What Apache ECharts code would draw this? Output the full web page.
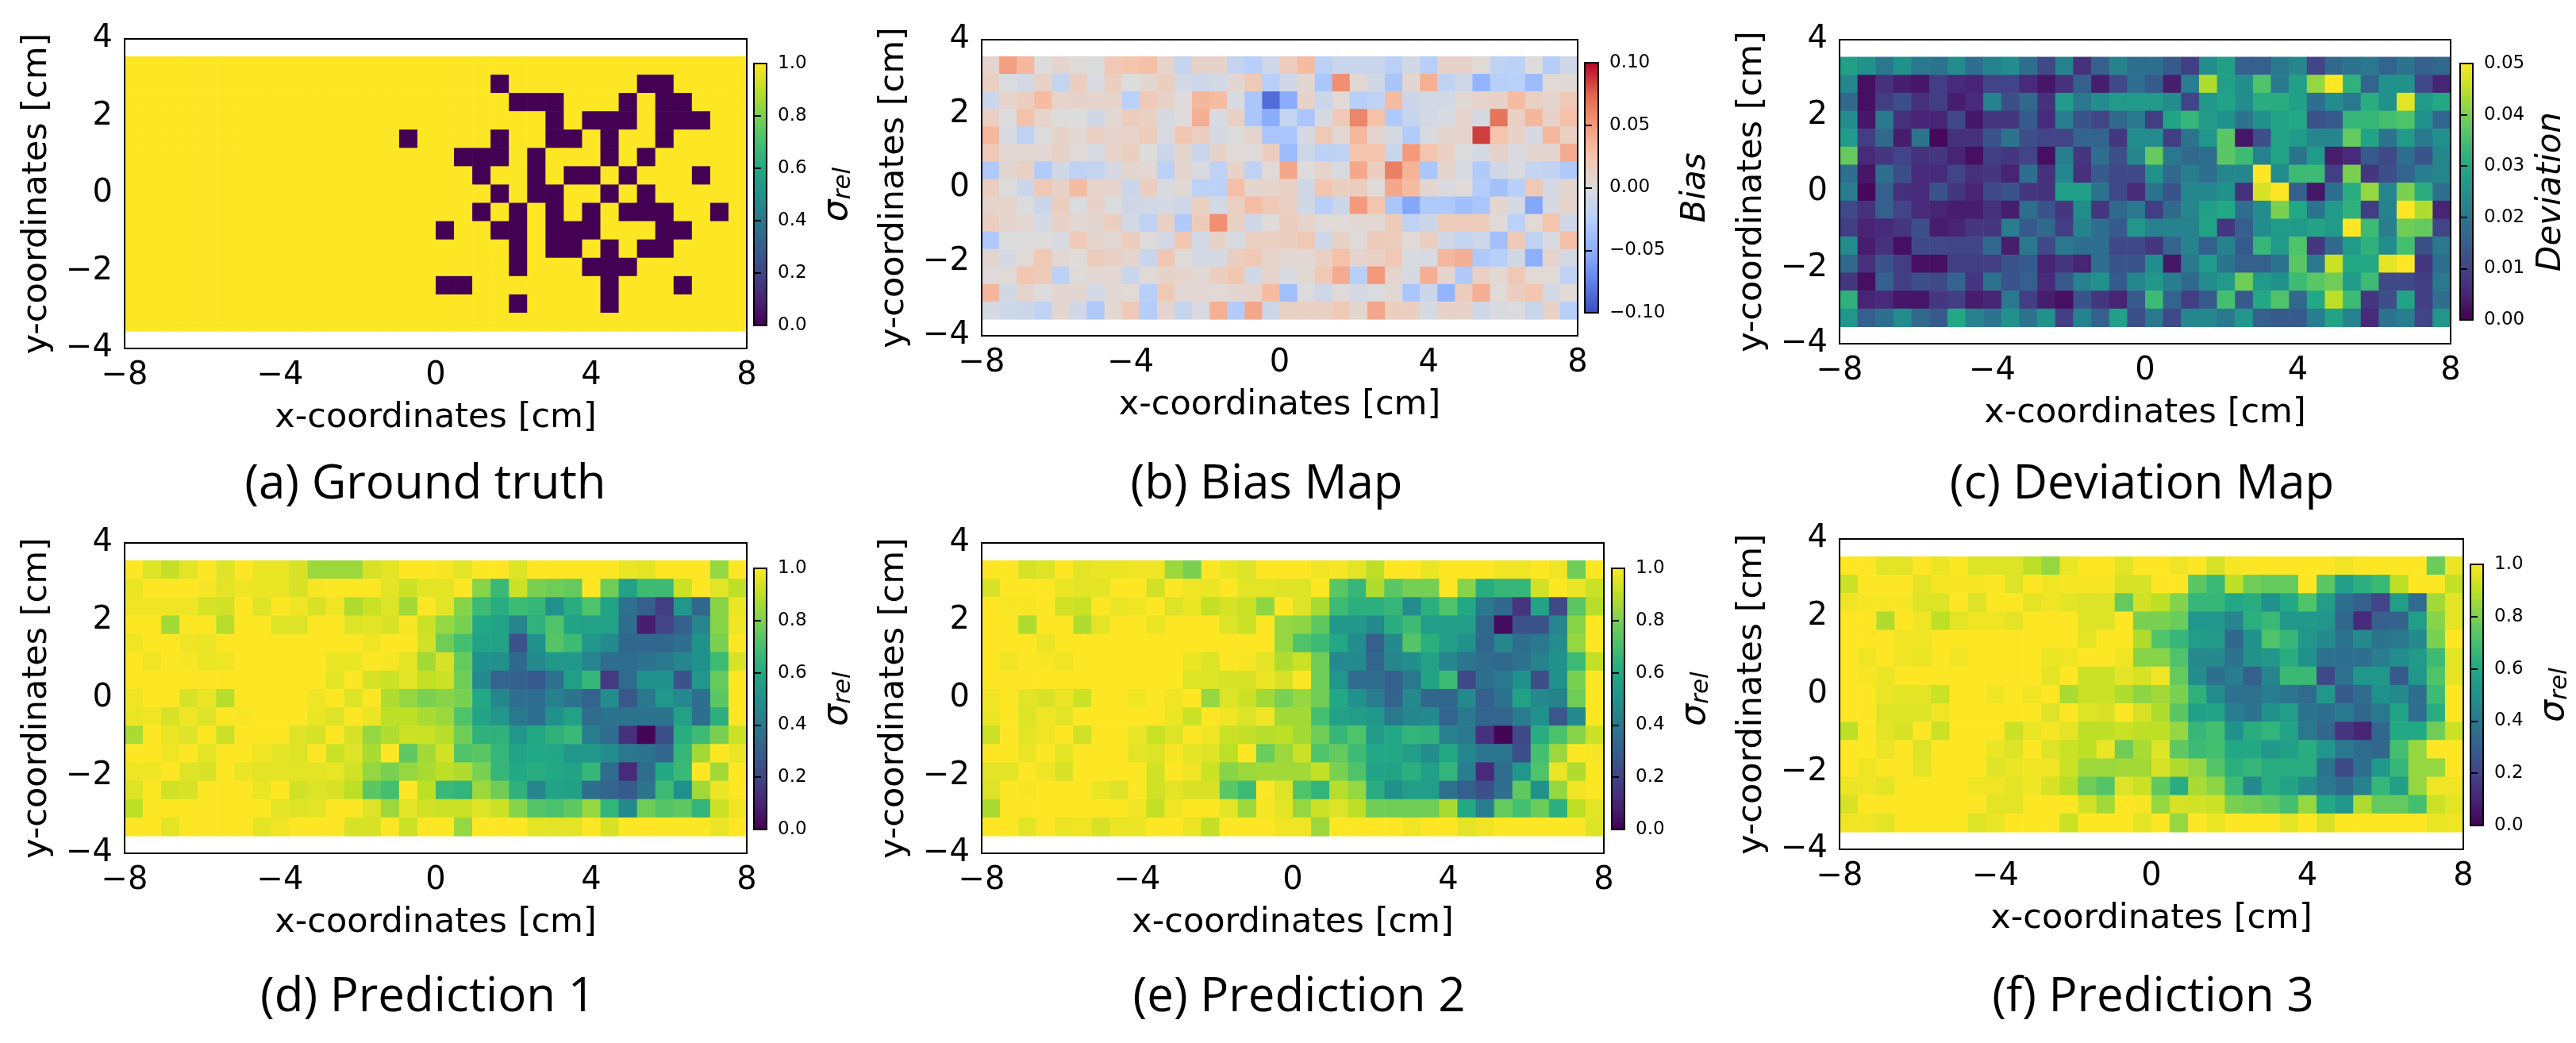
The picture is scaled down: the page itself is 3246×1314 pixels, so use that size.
<!DOCTYPE html>
<html>
<head>
<meta charset="UTF-8">
<title>Reconstruction maps</title>
<script src="https://cdn.jsdelivr.net/npm/echarts@6/dist/echarts.min.js"></script>
<style>
html, body { margin: 0; padding: 0; background: #fff; }
#main { width: 3246px; height: 1314px; }
</style>
</head>
<body>
<div id="main"></div>
<script>
// every matrix: 15 rows (top row first) x 34 columns
var groundTruth = [
[1,1,1,1,1,1,1,1,1,1,1,1,1,1,1,1,1,1,1,1,1,1,1,1,1,1,1,1,1,1,1,1,1,1],
[1,1,1,1,1,1,1,1,1,1,1,1,1,1,1,1,1,1,1,1,0,1,1,1,1,1,1,1,0,0,1,1,1,1],
[1,1,1,1,1,1,1,1,1,1,1,1,1,1,1,1,1,1,1,1,1,0,0,0,1,1,1,0,1,0,0,1,1,1],
[1,1,1,1,1,1,1,1,1,1,1,1,1,1,1,1,1,1,1,1,1,1,1,0,1,0,0,0,1,0,0,0,1,1],
[1,1,1,1,1,1,1,1,1,1,1,1,1,1,1,0,1,1,1,1,0,1,1,0,0,1,0,1,1,0,1,1,1,1],
[1,1,1,1,1,1,1,1,1,1,1,1,1,1,1,1,1,1,0,0,0,1,0,1,1,1,0,1,0,1,1,1,1,1],
[1,1,1,1,1,1,1,1,1,1,1,1,1,1,1,1,1,1,1,0,1,1,0,1,0,0,1,0,1,1,1,0,1,1],
[1,1,1,1,1,1,1,1,1,1,1,1,1,1,1,1,1,1,1,1,0,1,0,0,1,1,0,1,0,1,1,1,1,1],
[1,1,1,1,1,1,1,1,1,1,1,1,1,1,1,1,1,1,1,0,1,0,1,0,1,0,1,0,0,0,1,1,0,1],
[1,1,1,1,1,1,1,1,1,1,1,1,1,1,1,1,1,0,1,1,0,0,1,0,0,0,1,1,1,0,0,1,1,1],
[1,1,1,1,1,1,1,1,1,1,1,1,1,1,1,1,1,1,1,1,1,0,1,0,0,1,0,1,0,0,1,1,1,1],
[1,1,1,1,1,1,1,1,1,1,1,1,1,1,1,1,1,1,1,1,1,0,1,1,1,0,0,0,1,1,1,1,1,1],
[1,1,1,1,1,1,1,1,1,1,1,1,1,1,1,1,1,0,0,1,1,1,1,1,1,1,0,1,1,1,0,1,1,1],
[1,1,1,1,1,1,1,1,1,1,1,1,1,1,1,1,1,1,1,1,1,0,1,1,1,1,0,1,1,1,1,1,1,1],
[1,1,1,1,1,1,1,1,1,1,1,1,1,1,1,1,1,1,1,1,1,1,1,1,1,1,1,1,1,1,1,1,1,1]
];
// bias, in units of 0.001
var biasMap = [
[8,47,32,0,8,1,0,20,25,28,9,-16,10,10,-17,-25,-10,16,30,-22,-14,-13,-13,-23,-8,-25,10,10,3,-20,-22,1,-27,-10],
[13,-2,-7,11,-16,15,-3,15,0,6,14,-7,-10,-7,6,20,-25,-9,6,-32,55,4,-9,-33,6,37,-19,-9,-47,-25,-24,-40,3,4],
[-12,9,15,30,9,10,9,9,-24,20,11,1,33,30,-4,-32,-85,-52,10,-12,3,-25,-20,30,-12,-7,-7,4,9,11,30,13,8,20],
[13,-1,27,9,0,0,-8,4,17,13,-5,1,38,-4,12,-32,-52,-16,-32,-5,20,60,27,-30,-15,-7,-4,8,-5,68,13,33,10,27],
[32,-3,-20,-1,10,4,13,8,9,17,-4,22,15,-5,0,8,-32,-32,-6,20,4,32,6,-5,-28,-3,7,8,85,25,11,-5,32,13],
[20,5,5,5,11,2,-4,9,14,0,-12,7,-13,10,2,2,16,-40,-10,-22,-19,25,25,-13,50,24,13,-1,-6,10,-3,7,6,40],
[-30,6,12,-28,-8,-20,-17,-6,7,5,-22,7,-3,-20,11,-20,3,43,1,9,-3,42,15,62,35,-32,8,-4,-29,-8,-3,-16,-18,-30],
[15,0,-12,20,10,30,9,9,-12,14,-3,4,-22,-22,28,7,9,12,-9,23,14,16,2,42,30,6,-3,2,-27,-37,-25,20,-6,6],
[8,9,-1,-12,15,-2,10,-1,-9,-7,-6,-9,13,-7,13,29,20,13,-8,-25,-12,50,24,-32,-55,-30,-30,-38,-32,7,-6,-55,-5,9],
[15,7,5,-6,11,5,6,15,-7,-20,13,-29,18,55,12,-9,1,16,9,2,2,4,4,18,-19,-11,17,17,17,2,-22,3,25,-9],
[-30,0,-1,1,-3,19,7,5,16,1,-7,22,-7,10,-4,13,13,14,20,-10,11,2,18,16,3,14,-8,-17,-10,-37,19,-20,-4,28],
[6,-6,3,20,5,1,16,11,6,-13,22,2,-6,-5,15,20,9,5,5,13,27,8,12,21,-4,-4,32,38,-30,-25,-8,-50,8,-7],
[1,3,22,18,-22,2,5,5,-13,2,10,9,4,14,23,-8,8,-3,4,20,40,-25,50,8,-5,38,9,-30,13,4,20,3,3,-20],
[33,-8,9,0,6,6,-7,4,3,-25,20,5,5,3,6,9,30,-38,-1,-10,2,-6,-2,4,-32,-11,-47,16,38,2,15,23,-7,3],
[-5,-10,-11,-20,6,-8,-30,5,20,-27,8,-15,-3,37,-28,42,-11,12,12,12,20,6,42,15,14,-6,10,10,-10,-3,-1,-14,11,-25]
];
// deviation, in units of 0.001
var deviationMap = [
[28,25,20,25,20,19,24,18,22,24,18,11,22,7,15,22,18,18,14,9,24,28,15,15,20,23,10,17,19,20,16,19,15,17],
[23,2,7,4,3,9,6,5,10,10,6,3,7,15,4,11,18,14,4,21,44,28,24,36,20,28,42,50,32,16,25,25,11,5],
[17,2,9,12,7,9,4,6,22,12,17,7,27,20,24,27,27,27,24,10,26,29,24,31,31,28,18,24,20,31,25,48,27,30],
[24,3,20,7,5,5,11,3,8,8,14,6,21,13,10,17,20,9,29,33,27,25,19,25,29,30,13,14,33,33,35,36,25,16],
[27,9,17,4,19,1,7,7,13,19,12,10,10,16,16,8,24,24,9,19,26,37,3,12,29,27,23,23,38,29,19,27,20,25],
[38,6,8,10,7,8,5,2,9,8,10,2,21,8,18,12,23,38,20,17,18,37,34,22,29,19,27,4,6,14,11,18,13,23],
[18,3,18,12,6,6,10,7,8,5,18,7,23,7,14,11,11,25,17,21,18,23,23,50,24,34,34,9,40,8,12,16,21,23],
[21,1,15,7,6,13,8,5,11,13,8,7,28,28,19,11,6,19,13,23,23,25,7,47,50,15,3,18,31,42,23,40,31,18],
[11,7,15,10,6,5,4,4,7,4,18,13,8,24,8,17,20,9,17,23,28,30,18,24,40,30,19,27,32,9,22,50,44,5],
[9,5,6,8,12,4,5,8,8,21,14,17,9,22,18,14,26,22,22,22,29,8,15,24,27,27,29,27,50,34,21,39,38,10],
[24,4,7,2,11,11,10,10,17,4,20,11,20,18,18,11,11,8,16,22,15,22,14,33,27,36,8,17,27,32,24,35,12,20],
[17,7,13,9,2,2,9,9,9,13,14,5,8,5,18,13,13,24,3,20,27,19,15,15,19,37,20,46,30,30,48,50,8,18],
[8,2,15,9,12,11,16,8,19,13,15,6,14,22,25,14,23,26,21,17,24,27,39,27,25,34,37,39,27,34,11,11,9,20],
[32,5,6,3,3,8,9,4,5,20,9,4,2,13,8,5,14,34,16,9,14,35,14,30,36,17,30,45,34,8,12,29,9,18],
[26,15,18,24,17,14,30,22,19,25,19,25,9,22,15,28,12,20,11,23,23,20,26,15,14,14,21,29,22,6,19,21,10,26]
];
// predictions, in percent of sigma_rel
var prediction1 = [
[100,95,91,96,100,95,100,97,97,94,85,85,85,94,96,100,100,99,96,100,100,95,100,100,100,100,100,97,96,100,100,100,84,100],
[97,100,100,100,99,96,98,97,97,94,99,100,100,100,96,92,96,96,100,82,67,92,80,78,76,100,78,57,68,68,92,100,96,90],
[98,98,98,98,94,93,100,95,100,98,94,98,88,92,95,86,100,96,82,68,62,68,66,50,62,72,58,37,30,18,52,33,82,97],
[100,100,86,100,100,89,100,100,95,95,100,100,95,96,94,99,92,84,80,60,58,45,64,72,58,57,57,35,8,20,30,45,82,98],
[98,100,100,98,97,100,100,100,100,100,100,100,100,98,100,100,93,78,70,58,58,25,50,73,68,52,47,33,33,33,36,50,80,100],
[100,98,100,99,97,98,100,100,100,100,100,97,97,100,99,96,86,94,76,50,50,34,47,53,53,45,36,35,38,40,45,50,68,94],
[100,100,100,100,100,100,100,100,100,100,100,96,100,94,92,96,91,92,78,47,32,31,28,37,56,66,17,35,50,50,26,52,76,100],
[98,100,100,94,97,89,100,100,100,100,98,100,95,100,88,84,80,82,80,60,46,36,36,43,38,32,48,27,40,52,47,36,74,100],
[97,98,94,98,95,100,99,100,100,100,97,95,100,97,90,90,87,85,72,58,52,40,36,50,57,35,38,38,38,38,57,36,63,100],
[87,100,97,95,100,92,100,100,100,95,94,100,94,84,88,92,92,89,78,64,64,52,60,64,67,42,35,14,1,24,62,68,80,92],
[100,100,98,100,96,100,100,98,96,95,100,92,95,87,100,75,86,93,72,74,66,58,60,59,52,53,48,40,38,33,66,86,100,97],
[98,98,100,95,94,100,97,96,96,96,96,97,93,84,80,84,87,90,88,80,66,60,62,60,58,66,35,12,35,60,67,100,86,100],
[95,100,93,94,100,100,100,97,100,93,95,94,90,74,70,100,90,67,65,85,78,64,45,58,56,36,32,28,38,68,50,86,97,100],
[90,100,100,100,100,100,100,100,96,95,96,100,100,95,85,96,93,92,92,95,92,82,73,71,75,84,65,47,78,73,75,65,92,98],
[100,100,96,100,100,100,100,96,98,100,100,100,94,94,100,92,100,100,84,100,100,100,96,96,96,100,94,100,100,100,100,100,97,100]
];
var prediction2 = [
[100,100,94,95,100,96,97,97,98,98,85,80,100,97,95,100,100,100,98,99,96,90,100,100,97,100,100,100,98,98,100,98,78,100],
[94,100,100,100,97,96,96,100,100,93,100,98,97,100,96,96,95,95,100,74,66,88,74,79,79,100,82,62,66,66,93,100,97,92],
[100,99,99,100,93,92,100,97,98,100,95,97,91,94,92,83,100,95,87,68,63,63,66,48,63,72,60,40,33,15,58,22,74,89],
[100,100,88,100,100,88,96,100,100,97,100,100,100,95,92,100,84,83,75,53,53,47,62,68,55,55,55,34,3,25,25,45,82,100],
[100,100,100,97,100,100,100,100,100,100,100,100,100,100,100,100,84,72,68,60,48,30,47,73,63,55,50,33,45,36,40,48,84,100],
[100,98,100,99,98,100,100,100,100,100,100,97,95,100,99,96,88,92,78,47,47,33,46,49,57,45,39,35,34,37,44,50,68,91],
[100,100,100,100,100,100,100,100,100,100,100,95,95,94,94,97,94,100,78,52,35,35,30,40,58,68,22,36,40,50,24,50,80,100],
[98,100,96,94,97,92,100,100,98,100,98,100,84,95,92,86,80,84,78,60,50,42,32,47,33,33,47,30,38,57,47,44,78,100],
[97,100,95,98,96,100,100,100,100,100,97,92,100,98,95,98,86,86,70,57,55,52,40,46,47,32,40,32,32,41,50,27,47,100],
[92,100,96,98,100,93,100,100,97,92,95,100,98,92,91,89,90,86,78,66,72,54,60,65,64,43,40,14,1,22,62,71,82,92],
[100,100,97,100,96,100,100,100,96,95,99,96,95,90,100,77,85,92,72,76,68,60,60,55,48,60,46,39,39,24,70,85,100,99],
[96,96,100,98,94,100,100,100,100,93,100,98,92,82,85,86,86,86,91,80,72,58,58,63,56,65,42,12,35,52,72,97,88,100],
[95,100,99,100,100,100,97,95,100,93,96,94,94,74,68,100,95,72,65,89,84,62,50,55,55,37,30,24,36,75,50,84,98,100],
[87,100,100,100,100,100,100,100,98,91,98,100,100,96,85,99,96,84,92,95,90,78,78,78,78,87,60,42,76,70,77,63,90,96],
[100,100,96,100,97,98,94,97,97,100,100,97,91,100,100,100,98,98,85,100,100,100,100,98,100,100,96,98,100,100,100,100,100,95]
];
var prediction3 = [
[100,100,96,96,100,97,100,95,95,95,90,84,97,100,100,96,100,100,98,100,94,99,100,100,100,100,100,98,100,100,100,100,77,97],
[92,100,100,100,96,99,99,99,100,95,100,98,99,99,99,94,94,100,100,74,67,90,78,76,76,100,74,55,63,67,90,100,100,91],
[98,99,99,99,95,95,100,95,100,100,96,98,96,95,95,76,93,90,81,66,66,60,62,50,60,72,55,36,30,20,55,35,86,96],
[100,100,88,100,98,90,96,98,98,96,100,100,100,95,95,100,80,80,77,52,52,45,63,67,53,53,52,33,12,30,31,55,82,96],
[100,100,100,98,98,100,100,100,100,100,100,100,100,96,100,100,88,72,66,55,54,33,50,72,66,52,47,38,47,38,40,47,80,100],
[100,98,100,98,97,100,98,100,100,100,100,97,98,100,100,98,82,82,72,47,47,38,51,53,62,50,37,36,36,42,48,54,68,96],
[100,99,97,100,100,100,100,100,100,100,100,96,100,92,92,96,94,98,76,48,36,42,30,45,67,67,22,37,52,52,28,52,72,96],
[100,100,97,96,96,92,100,100,98,100,98,100,87,92,92,88,83,86,80,64,48,37,37,42,39,35,52,28,35,50,47,36,68,100],
[100,100,95,95,95,98,100,100,100,100,100,95,100,95,94,100,94,88,74,56,58,42,38,50,55,38,36,40,33,40,58,36,62,100],
[90,100,96,94,100,92,100,100,100,92,97,99,96,90,90,92,90,90,84,66,70,50,62,65,58,40,33,15,10,33,60,60,78,92],
[100,100,97,100,95,100,100,100,97,95,100,95,92,90,97,78,87,95,75,68,70,60,60,53,56,62,52,40,35,33,70,84,100,100],
[100,98,100,100,96,100,100,100,95,97,98,98,92,85,85,86,86,94,88,84,73,63,66,62,62,62,38,22,36,52,66,84,84,100],
[97,98,96,100,100,100,100,98,98,96,98,94,89,78,73,95,92,75,62,87,83,68,47,62,58,48,40,34,44,66,56,84,98,98],
[94,100,100,100,100,100,100,100,96,96,100,100,100,93,86,100,99,84,94,93,92,80,78,75,70,84,60,52,88,76,76,70,92,96],
[98,98,96,100,100,100,100,95,97,100,100,100,92,100,100,100,96,100,84,100,97,100,100,100,96,100,94,100,100,100,100,100,97,98]
];

var viridis = ['#440154','#482475','#414487','#355f8d','#2a788e','#21918c','#22a884','#44bf70','#7ad151','#bddf26','#fde725'];
var coolwarm = ['#3b4cc0','#6282ea','#8db0fe','#b7cff9','#dddcdc','#f5c4ac','#f49a7b','#e0654f','#b40426'];

var sigmaName = '{s|σ}{r|rel}';
var nameRich = {
	s: { fontFamily: 'DejaVu Sans', fontStyle: 'italic', fontSize: 44, verticalAlign: 'bottom' },
	r: { fontFamily: 'DejaVu Sans', fontStyle: 'italic', fontSize: 31, verticalAlign: 'bottom', padding: [12, 0, 0, 0] }
};

// l,r,t,b = axes box; bar = colorbar [left, right, top, bottom]
var panels = [
	{ m: groundTruth, k: 1, min: 0, max: 1, step: 0.2, dec: 1, colors: viridis, name: sigmaName, gap: 68, cap: '(a) Ground truth', capX: 531, capY: 576, l: 157, r: 941, t: 49, b: 439, bar: [950, 966, 80, 410] },
	{ m: biasMap, k: 0.001, min: -0.1, max: 0.1, step: 0.05, dec: 2, colors: coolwarm, name: 'Bias', gap: 102, cap: '(b) Bias Map', capX: 1591, capY: 576, l: 1237, r: 1988, t: 50, b: 423, bar: [1997, 2014, 79, 394] },
	{ m: deviationMap, k: 0.001, min: 0, max: 0.05, step: 0.01, dec: 2, colors: viridis, name: 'Deviation', gap: 78, cap: '(c) Deviation Map', capX: 2694, capY: 576, l: 2318, r: 3088, t: 50, b: 433, bar: [3100, 3116, 80, 403] },
	{ m: prediction1, k: 0.01, min: 0, max: 1, step: 0.2, dec: 1, colors: viridis, name: sigmaName, gap: 68, cap: '(d) Prediction 1', capX: 534, capY: 1222, l: 157, r: 941, t: 684, b: 1075, bar: [950, 966, 716, 1045] },
	{ m: prediction2, k: 0.01, min: 0, max: 1, step: 0.2, dec: 1, colors: viridis, name: sigmaName, gap: 68, cap: '(e) Prediction 2', capX: 1632, capY: 1222, l: 1237, r: 2021, t: 684, b: 1075, bar: [2031, 2047, 716, 1045] },
	{ m: prediction3, k: 0.01, min: 0, max: 1, step: 0.2, dec: 1, colors: viridis, name: sigmaName, gap: 68, cap: '(f) Prediction 3', capX: 2708, capY: 1222, l: 2318, r: 3104, t: 679, b: 1070, bar: [3113, 3129, 711, 1040] }
];

var CELL = 16 / 34;

function minus(v) { return String(v).replace('-', '−'); }

function drawCell(params, api) {
	var w = CELL, h = 0.4733;
	var p = api.coord([api.value(0) - w / 2, api.value(1) + h / 2]);
	var s = api.size([w, h]);
	return {
		type: 'rect',
		shape: { x: p[0], y: p[1], width: s[0] + 0.6, height: s[1] + 0.6 },
		style: { fill: api.visual('color') }
	};
}

var grids = [], xAxes = [], yAxes = [], series = [], maps = [], titles = [];

panels.forEach(function (p, i) {
	var cells = [];
	p.m.forEach(function (row, r) {
		row.forEach(function (v, c) {
			cells.push([-8 + CELL * (c + 0.5), 3.55 - 0.4733 * (r + 0.5), v * p.k]);
		});
	});
	grids.push({ show: true, z: 3, backgroundColor: 'transparent', borderColor: '#000', borderWidth: 2, left: p.l, top: p.t, width: p.r - p.l, height: p.b - p.t });
	xAxes.push({
		type: 'value', gridIndex: i, min: -8, max: 8, interval: 4,
		name: 'x-coordinates [cm]', nameLocation: 'middle', nameGap: 66, nameMoveOverlap: false,
		nameTextStyle: { fontFamily: 'DejaVu Sans', fontSize: 43, color: '#000' },
		axisLine: { show: false }, splitLine: { show: false },
		axisTick: { length: 7, lineStyle: { color: '#000', width: 2 } },
		axisLabel: { fontFamily: 'DejaVu Sans', fontSize: 40, color: '#000', margin: 15, formatter: minus, showMinLabel: true, showMaxLabel: true }
	});
	yAxes.push({
		type: 'value', gridIndex: i, min: -4, max: 4, interval: 2,
		name: 'y-coordinates [cm]', nameLocation: 'middle', nameGap: 89, nameMoveOverlap: false,
		nameTextStyle: { fontFamily: 'DejaVu Sans', fontSize: 43, color: '#000' },
		axisLine: { show: false }, splitLine: { show: false },
		axisTick: { length: 7, lineStyle: { color: '#000', width: 2 } },
		axisLabel: { fontFamily: 'DejaVu Sans', fontSize: 40, color: '#000', margin: 15, padding: [6, 0, 0, 0], formatter: minus, showMinLabel: true, showMaxLabel: true }
	});
	series.push({
		type: 'custom', xAxisIndex: i, yAxisIndex: i, z: 2, clip: true, silent: true,
		animation: false, renderItem: drawCell, encode: { x: 0, y: 1 }, data: cells
	});
	maps.push({
		type: 'continuous', seriesIndex: i, dimension: 2, min: p.min, max: p.max,
		left: p.bar[0], top: p.bar[2], itemWidth: p.bar[1] - p.bar[0], itemHeight: p.bar[3] - p.bar[2],
		padding: 0, calculable: false, hoverLink: false, text: null, showLabel: false,
		inRange: { color: p.colors }, textStyle: { fontSize: 1, color: 'transparent' }
	});
	titles.push({
		text: p.cap, left: p.capX, top: p.capY, textAlign: 'center',
		textStyle: { fontFamily: 'Open Sans', fontWeight: 'normal', fontSize: 60, color: '#000' }
	});
});

// colorbar frames, ticks and labels sit in their own narrow grids
panels.forEach(function (p, i) {
	var g = panels.length + i;
	grids.push({ show: true, z: 6, backgroundColor: 'transparent', borderColor: '#000', borderWidth: 2, left: p.bar[0], top: p.bar[2], width: p.bar[1] - p.bar[0], height: p.bar[3] - p.bar[2] });
	xAxes.push({ type: 'value', gridIndex: g, min: 0, max: 1, show: false });
	yAxes.push({
		type: 'value', gridIndex: g, position: 'right', min: p.min, max: p.max, interval: p.step, z: 6,
		name: p.name, nameLocation: 'middle', nameRotate: 90, nameGap: p.gap, nameMoveOverlap: false,
		nameTextStyle: { fontFamily: 'DejaVu Sans', fontStyle: 'italic', fontSize: 42, color: '#000', rich: nameRich },
		axisLine: { show: false }, splitLine: { show: false },
		axisTick: { length: 9, lineStyle: { color: '#000', width: 2 } },
		axisLabel: {
			fontFamily: 'DejaVu Sans', fontSize: 23, color: '#000', margin: 14, showMinLabel: true, showMaxLabel: true,
			formatter: (function (dec) { return function (v) { return minus(v.toFixed(dec)); }; })(p.dec)
		}
	});
});

var myChart = echarts.init(document.getElementById('main'));
myChart.setOption({
	animation: false,
	backgroundColor: '#fff',
	title: titles,
	grid: grids,
	xAxis: xAxes,
	yAxis: yAxes,
	visualMap: maps,
	series: series
});
</script>
</body>
</html>
